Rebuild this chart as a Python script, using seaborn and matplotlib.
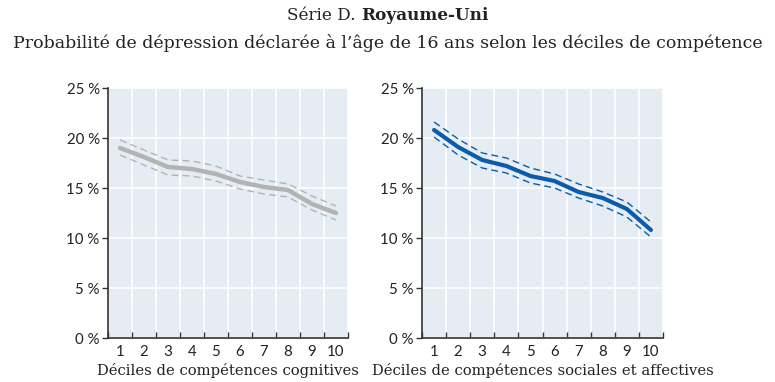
import matplotlib
matplotlib.use("Agg")
import matplotlib.pyplot as plt
import numpy as np
import pandas as pd
import seaborn as sns

# Deciles and estimated probabilities (%) with confidence bounds
deciles = list(range(1, 11))

cog_mean = [19.0, 18.1, 17.1, 16.9, 16.4, 15.6, 15.1, 14.8, 13.4, 12.5]
cog_upper = [19.8, 18.8, 17.8, 17.7, 17.2, 16.2, 15.8, 15.4, 14.2, 13.2]
cog_lower = [18.3, 17.3, 16.3, 16.2, 15.7, 14.9, 14.4, 14.1, 12.8, 11.8]

soc_mean = [20.8, 19.1, 17.8, 17.2, 16.2, 15.7, 14.6, 14.0, 12.9, 10.8]
soc_upper = [21.6, 19.9, 18.5, 18.0, 17.0, 16.4, 15.4, 14.6, 13.6, 11.6]
soc_lower = [20.1, 18.3, 17.0, 16.5, 15.5, 15.0, 14.0, 13.2, 12.1, 10.1]

y_ticks = [0, 5, 10, 15, 20, 25]
y_labels = ["0 %", "5 %", "10 %", "15 %", "20 %", "25 %"]

title_regular = "Série D. "
title_bold = "Royaume-Uni"
subtitle = "Probabilité de dépression déclarée à l’âge de 16 ans selon les déciles de compétence"
xlabels = ["Déciles de compétences cognitives", "Déciles de compétences sociales et affectives"]

sns.set_style("whitegrid")
plt.rcParams["font.family"] = ["DejaVu Serif"]

BG = "#e5ecf4"
AXIS = "#333333"
SERIF = "DejaVu Serif"
SANS = "Lato"

fig = plt.figure(figsize=(7.75, 3.82), dpi=100)
ax_l = fig.add_axes([108 / 775, 44 / 382, 240 / 775, 250 / 382])
ax_r = fig.add_axes([422 / 775, 44 / 382, 241 / 775, 250 / 382])


def make_frame(mean, upper, lower):
    rows = []
    for name, vals in (("mean", mean), ("upper", upper), ("lower", lower)):
        for d, v in zip(deciles, vals):
            rows.append({"decile": d, "value": v, "band": name})
    return pd.DataFrame(rows)


panels = [
    (ax_l, make_frame(cog_mean, cog_upper, cog_lower), "#b3b3b3", 3.2),
    (ax_r, make_frame(soc_mean, soc_upper, soc_lower), "#0b5ca8", 3.0),
]

for i, (ax, df, color, lw) in enumerate(panels):
    ax.set_facecolor(BG)
    sns.lineplot(data=df[df.band == "mean"], x="decile", y="value", ax=ax,
                 color=color, linewidth=lw, legend=False)
    for b in ("upper", "lower"):
        sns.lineplot(data=df[df.band == b], x="decile", y="value", ax=ax,
                     color=color, linewidth=1.0, linestyle=(0, (5, 3)), legend=False)

    ax.set_xlim(0.5, 10.5)
    ax.set_ylim(0, 25)

    # Boundaries between deciles: inward ticks and vertical gridlines
    ax.set_xticks(np.arange(0.5, 11, 1.0))
    ax.set_xticklabels([])
    ax.tick_params(axis="x", which="major", direction="in", length=4,
                   color=AXIS, width=1.0, bottom=True)
    # Decile labels centred in each band
    ax.set_xticks(deciles, minor=True)
    ax.set_xticklabels([str(d) for d in deciles], minor=True,
                       fontfamily=SANS, fontsize=10.8, color="#222222")
    ax.tick_params(axis="x", which="minor", length=0, pad=5)

    ax.set_yticks(y_ticks)
    ax.set_yticklabels(y_labels, fontfamily=SANS, fontsize=10.8, color="#222222")
    ax.tick_params(axis="y", direction="out", length=4, color=AXIS, width=1.0,
                   left=True, pad=2)

    ax.grid(True, which="major", color="white", linewidth=1.2)
    ax.grid(False, which="minor")
    for s in ("top", "right"):
        ax.spines[s].set_visible(False)
    for s in ("left", "bottom"):
        ax.spines[s].set_visible(True)
        ax.spines[s].set_color(AXIS)
        ax.spines[s].set_linewidth(1.2)
    ax.set_xlabel(xlabels[i], fontfamily=SERIF, fontsize=10.6, color="#222222", labelpad=3)
    ax.set_ylabel("")

# Title in two weights, centred as a whole
t1 = fig.text(0, 1 - 16 / 382, title_regular, fontfamily=SERIF, fontsize=12.2,
              va="center", ha="left", color="#222222")
t2 = fig.text(0, 1 - 16 / 382, title_bold, fontfamily=SERIF, fontsize=12.2,
              fontweight="bold", va="center", ha="left", color="#222222")
fig.canvas.draw()
r = fig.canvas.get_renderer()
w1 = t1.get_window_extent(r).width
w2 = t2.get_window_extent(r).width
x0 = (775 - (w1 + w2)) / 2
t1.set_x(x0 / 775)
t2.set_x((x0 + w1) / 775)

fig.text(0.5, 1 - 43 / 382, subtitle, fontfamily=SERIF, fontsize=12.5,
         va="center", ha="center", color="#222222")

fig.savefig("out.png", dpi=100)
